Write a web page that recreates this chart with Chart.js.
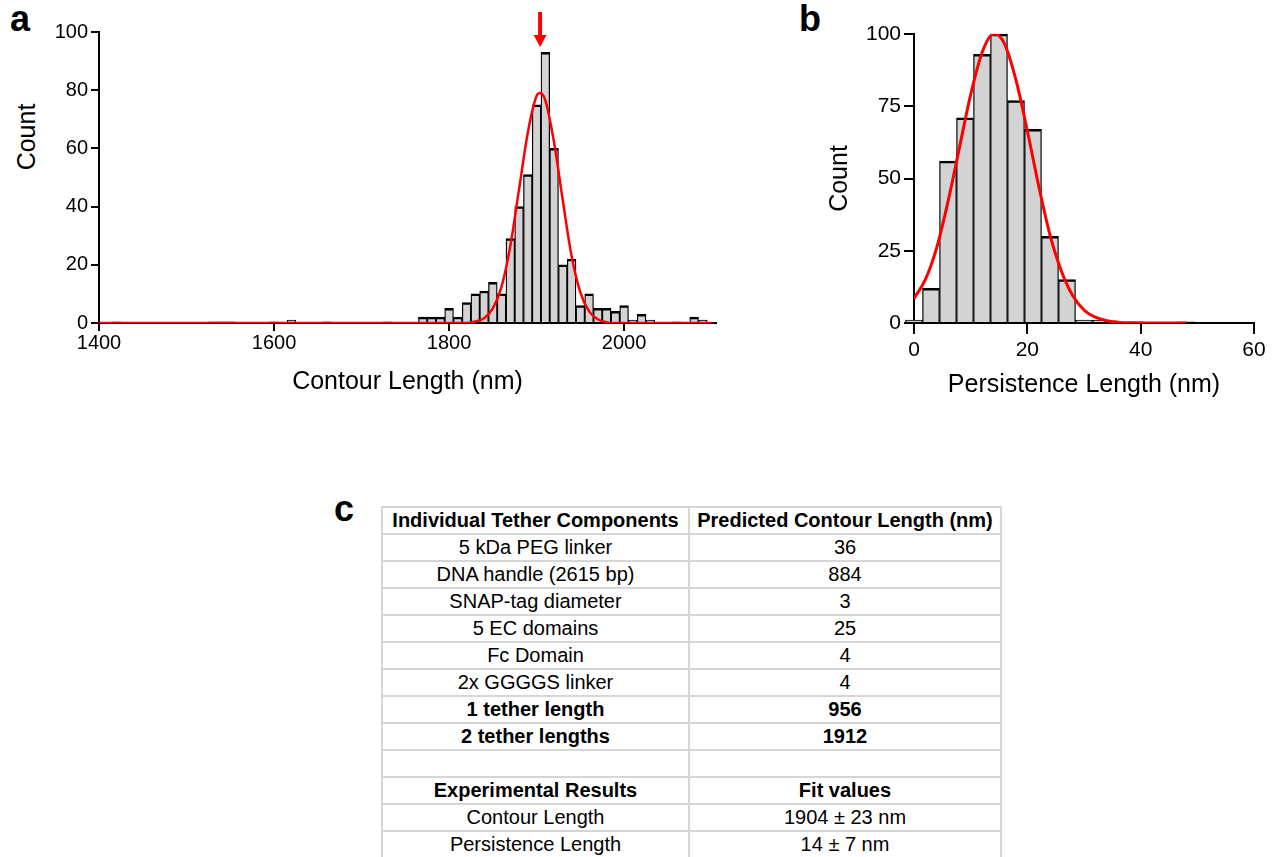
<!DOCTYPE html>
<html>
<head>
<meta charset="utf-8">
<script src="https://cdn.jsdelivr.net/npm/chart.js@4.4.1/dist/chart.umd.min.js"></script>
<style>
	body { margin: 0; background: #fff; width: 1272px; height: 857px; position: relative; overflow: hidden;
	       font-family: "Liberation Sans", Arial, sans-serif; color: #000; }
	.panel  { position: absolute; font-weight: bold; font-size: 36px; line-height: 36px; }
	.ytitle { position: absolute; font-size: 25px; line-height: 25px; white-space: nowrap;
	          transform: translate(-50%, -50%) rotate(-90deg); }
	canvas  { position: absolute; }
	table   { position: absolute; left: 381px; top: 506px; border-collapse: collapse; table-layout: fixed; }
	td      { border: 2px solid #d6d6d6; height: 25px; padding: 0; text-align: center; font-size: 20px; line-height: 25px; }
	td.b    { font-weight: bold; }
</style>
</head>
<body>

<div class="panel" style="left:10px; top:1px;">a</div>
<div class="panel" style="left:799px; top:1px;">b</div>
<div class="panel" style="left:334px; top:491px;">c</div>
<div class="ytitle" style="left:26px; top:137px;">Count</div>

<canvas id="chartA" width="740" height="420" style="left:0; top:0;"></canvas>
<canvas id="chartB" width="472" height="420" style="left:800px; top:0;"></canvas>

<table id="tbl">
	<colgroup><col style="width:307px"><col style="width:312px"></colgroup>
	<tbody></tbody>
</table>

<script>
// a : contour length histogram (bin centres, 10 nm bins)
var contourBins   = [1420, 1530, 1540, 1550, 1600, 1620, 1660, 1730,
                     1770, 1780, 1790, 1800, 1810, 1820, 1830, 1840, 1850, 1860,
                     1870, 1880, 1890, 1900, 1910, 1920, 1930, 1940, 1950, 1960,
                     1970, 1980, 1990, 2000, 2010, 2020, 2030, 2060, 2080, 2090];
var contourCounts = [0.4, 0.4, 0.4, 0.4, 0.4, 1, 0.4, 0.4,
                     2, 2, 2, 5, 2, 7, 10, 11, 14, 10,
                     29, 40, 51, 75, 93, 60, 20, 22, 6, 10,
                     5, 5, 4, 6, 1, 3, 1, 0.4, 2, 1];
// a : fitted curve
var contourFitX = [1400, 1820, 1830, 1840, 1850, 1860, 1870, 1880, 1890, 1900, 1904,
                   1910, 1920, 1930, 1940, 1950, 1960, 1970, 1980, 1990, 2100];
var contourFitY = [0, 0, 0.5, 1.6, 5, 12.5, 26.5, 46, 65.5, 78, 79,
                   76.5, 62, 42, 23, 10.5, 4, 1.3, 0.3, 0, 0];
var contourArrow = 1904;

// b : persistence length histogram (bin centres, 3 nm bins)
var persistBins   = [0, 3, 6, 9, 12, 15, 18, 21, 24, 27, 30, 33, 39, 48];
var persistCounts = [1, 12, 56, 71, 93, 100, 77, 67, 30, 15, 1, 1, 0.4, 0.4];
var persistFitX = [0, 2, 4, 6, 8, 10, 12, 14, 14.3, 16, 18, 20, 22, 24, 26, 28, 30, 32, 34, 36, 38, 48];
var persistFitY = [8.5, 15, 26, 42, 60.5, 79, 93.5, 100, 100, 96.5, 84, 66.5, 47.5, 30.5, 18, 9.5, 4.5, 2, 0.8, 0.3, 0.1, 0];

// c : table
var tableRows = [
	['Individual Tether Components', 'Predicted Contour Length (nm)', 1],
	['5 kDa PEG linker', '36', 0],
	['DNA handle (2615 bp)', '884', 0],
	['SNAP-tag diameter', '3', 0],
	['5 EC domains', '25', 0],
	['Fc Domain', '4', 0],
	['2x GGGGS linker', '4', 0],
	['1 tether length', '956', 1],
	['2 tether lengths', '1912', 1],
	['', '', 0],
	['Experimental Results', 'Fit values', 1],
	['Contour Length', '1904 \u00b1 23 nm', 0],
	['Persistence Length', '14 \u00b1 7 nm', 0]
];

var body = document.querySelector('#tbl tbody');
tableRows.forEach(function (r) {
	var tr = document.createElement('tr');
	[r[0], r[1]].forEach(function (t) {
		var td = document.createElement('td');
		if (r[2]) td.className = 'b';
		td.textContent = t;
		tr.appendChild(td);
	});
	body.appendChild(tr);
});

Chart.defaults.font.family = '"Liberation Sans", Arial, sans-serif';
Chart.defaults.color = '#000';
Chart.defaults.animation = false;

function pts(xs, ys) {
	return xs.map(function (x, i) { return { x: x, y: ys[i] }; });
}

function plain(v) { return String(v); }

function axis(opts) {
	return Object.assign({
		type    : 'linear',
		offset  : false,
		grid    : { display: true, drawOnChartArea: false, offset: false, color: '#000', lineWidth: 2, tickLength: 8 },
		border  : { display: true, color: '#000', width: 2 },
		ticks   : { color: '#000', font: { size: 20 }, padding: 3 }
	}, opts);
}

var arrowPlugin = {
	id : 'arrow',
	afterDatasetsDraw : function (chart) {
		var ctx = chart.ctx;
		var x   = chart.scales.x.getPixelForValue(contourArrow);
		var top = chart.chartArea.top;
		ctx.save();
		ctx.fillStyle = '#ff0000';
		ctx.fillRect(x - 2, top - 20, 4, 24);
		ctx.beginPath();
		ctx.moveTo(x - 6.5, top + 3);
		ctx.lineTo(x + 6.5, top + 3);
		ctx.lineTo(x, top + 15);
		ctx.closePath();
		ctx.fill();
		ctx.restore();
	}
};

var barBorder = { top: 2.5, left: 1.3, right: 1.3, bottom: 0 };

new Chart(document.getElementById('chartA'), {
	type : 'bar',
	data : {
		datasets : [{
			type        : 'line',
			data        : pts(contourFitX, contourFitY),
			borderColor : '#ff0000',
			borderWidth : 2.5,
			pointRadius : 0,
			cubicInterpolationMode : 'monotone',
			order       : 0
		}, {
			type            : 'bar',
			data            : pts(contourBins, contourCounts),
			backgroundColor : '#d3d3d3',
			borderColor     : '#000',
			borderWidth     : barBorder,
			barPercentage   : 1,
			categoryPercentage : 1,
			order           : 1
		}]
	},
	options : {
		responsive : false,
		devicePixelRatio : 1,
		layout  : { padding: { left: 0, top: 32, right: 24, bottom: 0 } },
		plugins : { legend: { display: false }, tooltip: { enabled: false } },
		scales  : {
			x : axis({
				min : 1400, max : 2105,
				grid  : { display: true, drawOnChartArea: false, offset: false, color: '#000', lineWidth: 2, tickLength: 8 },
				ticks : { stepSize: 200, includeBounds: false, font: { size: 20 }, padding: 0, maxRotation: 0, callback: plain },
				title : { display: true, text: 'Contour Length (nm)', font: { size: 25 }, padding: { top: 0, bottom: 23 } },
				afterFit : function (s) { s.height = 97; }
			}),
			y : axis({
				min : 0, max : 100,
				ticks : { stepSize: 20, font: { size: 20 }, padding: 3, callback: plain },
				afterFit : function (s) { s.width = 99; }
			})
		}
	},
	plugins : [arrowPlugin]
});

new Chart(document.getElementById('chartB'), {
	type : 'bar',
	data : {
		datasets : [{
			type        : 'line',
			data        : pts(persistFitX, persistFitY),
			borderColor : '#ff0000',
			borderWidth : 3,
			pointRadius : 0,
			cubicInterpolationMode : 'monotone',
			order       : 0
		}, {
			type            : 'bar',
			data            : pts(persistBins, persistCounts),
			backgroundColor : '#d3d3d3',
			borderColor     : '#000',
			borderWidth     : barBorder,
			barPercentage   : 1,
			categoryPercentage : 1,
			clip            : false,
			order           : 1
		}]
	},
	options : {
		responsive : false,
		devicePixelRatio : 1,
		layout  : { padding: { left: 0, top: 34, right: 18, bottom: 0 } },
		plugins : { legend: { display: false }, tooltip: { enabled: false } },
		scales  : {
			x : axis({
				min : 0, max : 60,
				grid  : { display: true, drawOnChartArea: false, offset: false, color: '#000', lineWidth: 2, tickLength: 11 },
				ticks : { stepSize: 20, font: { size: 21 }, padding: 4, maxRotation: 0, callback: plain },
				title : { display: true, text: 'Persistence Length (nm)', font: { size: 25 }, padding: { top: 0, bottom: 20 } },
				afterFit : function (s) { s.height = 97; }
			}),
			y : axis({
				min : 0, max : 100,
				grid  : { display: true, drawOnChartArea: false, offset: false, color: '#000', lineWidth: 2, tickLength: 10 },
				ticks : { stepSize: 25, font: { size: 21 }, padding: 3, callback: plain },
				title : { display: true, text: 'Count', font: { size: 25 }, padding: { top: 25, bottom: 0 } },
				afterFit : function (s) { s.width = 114; }
			})
		}
	}
});
</script>
</body>
</html>
